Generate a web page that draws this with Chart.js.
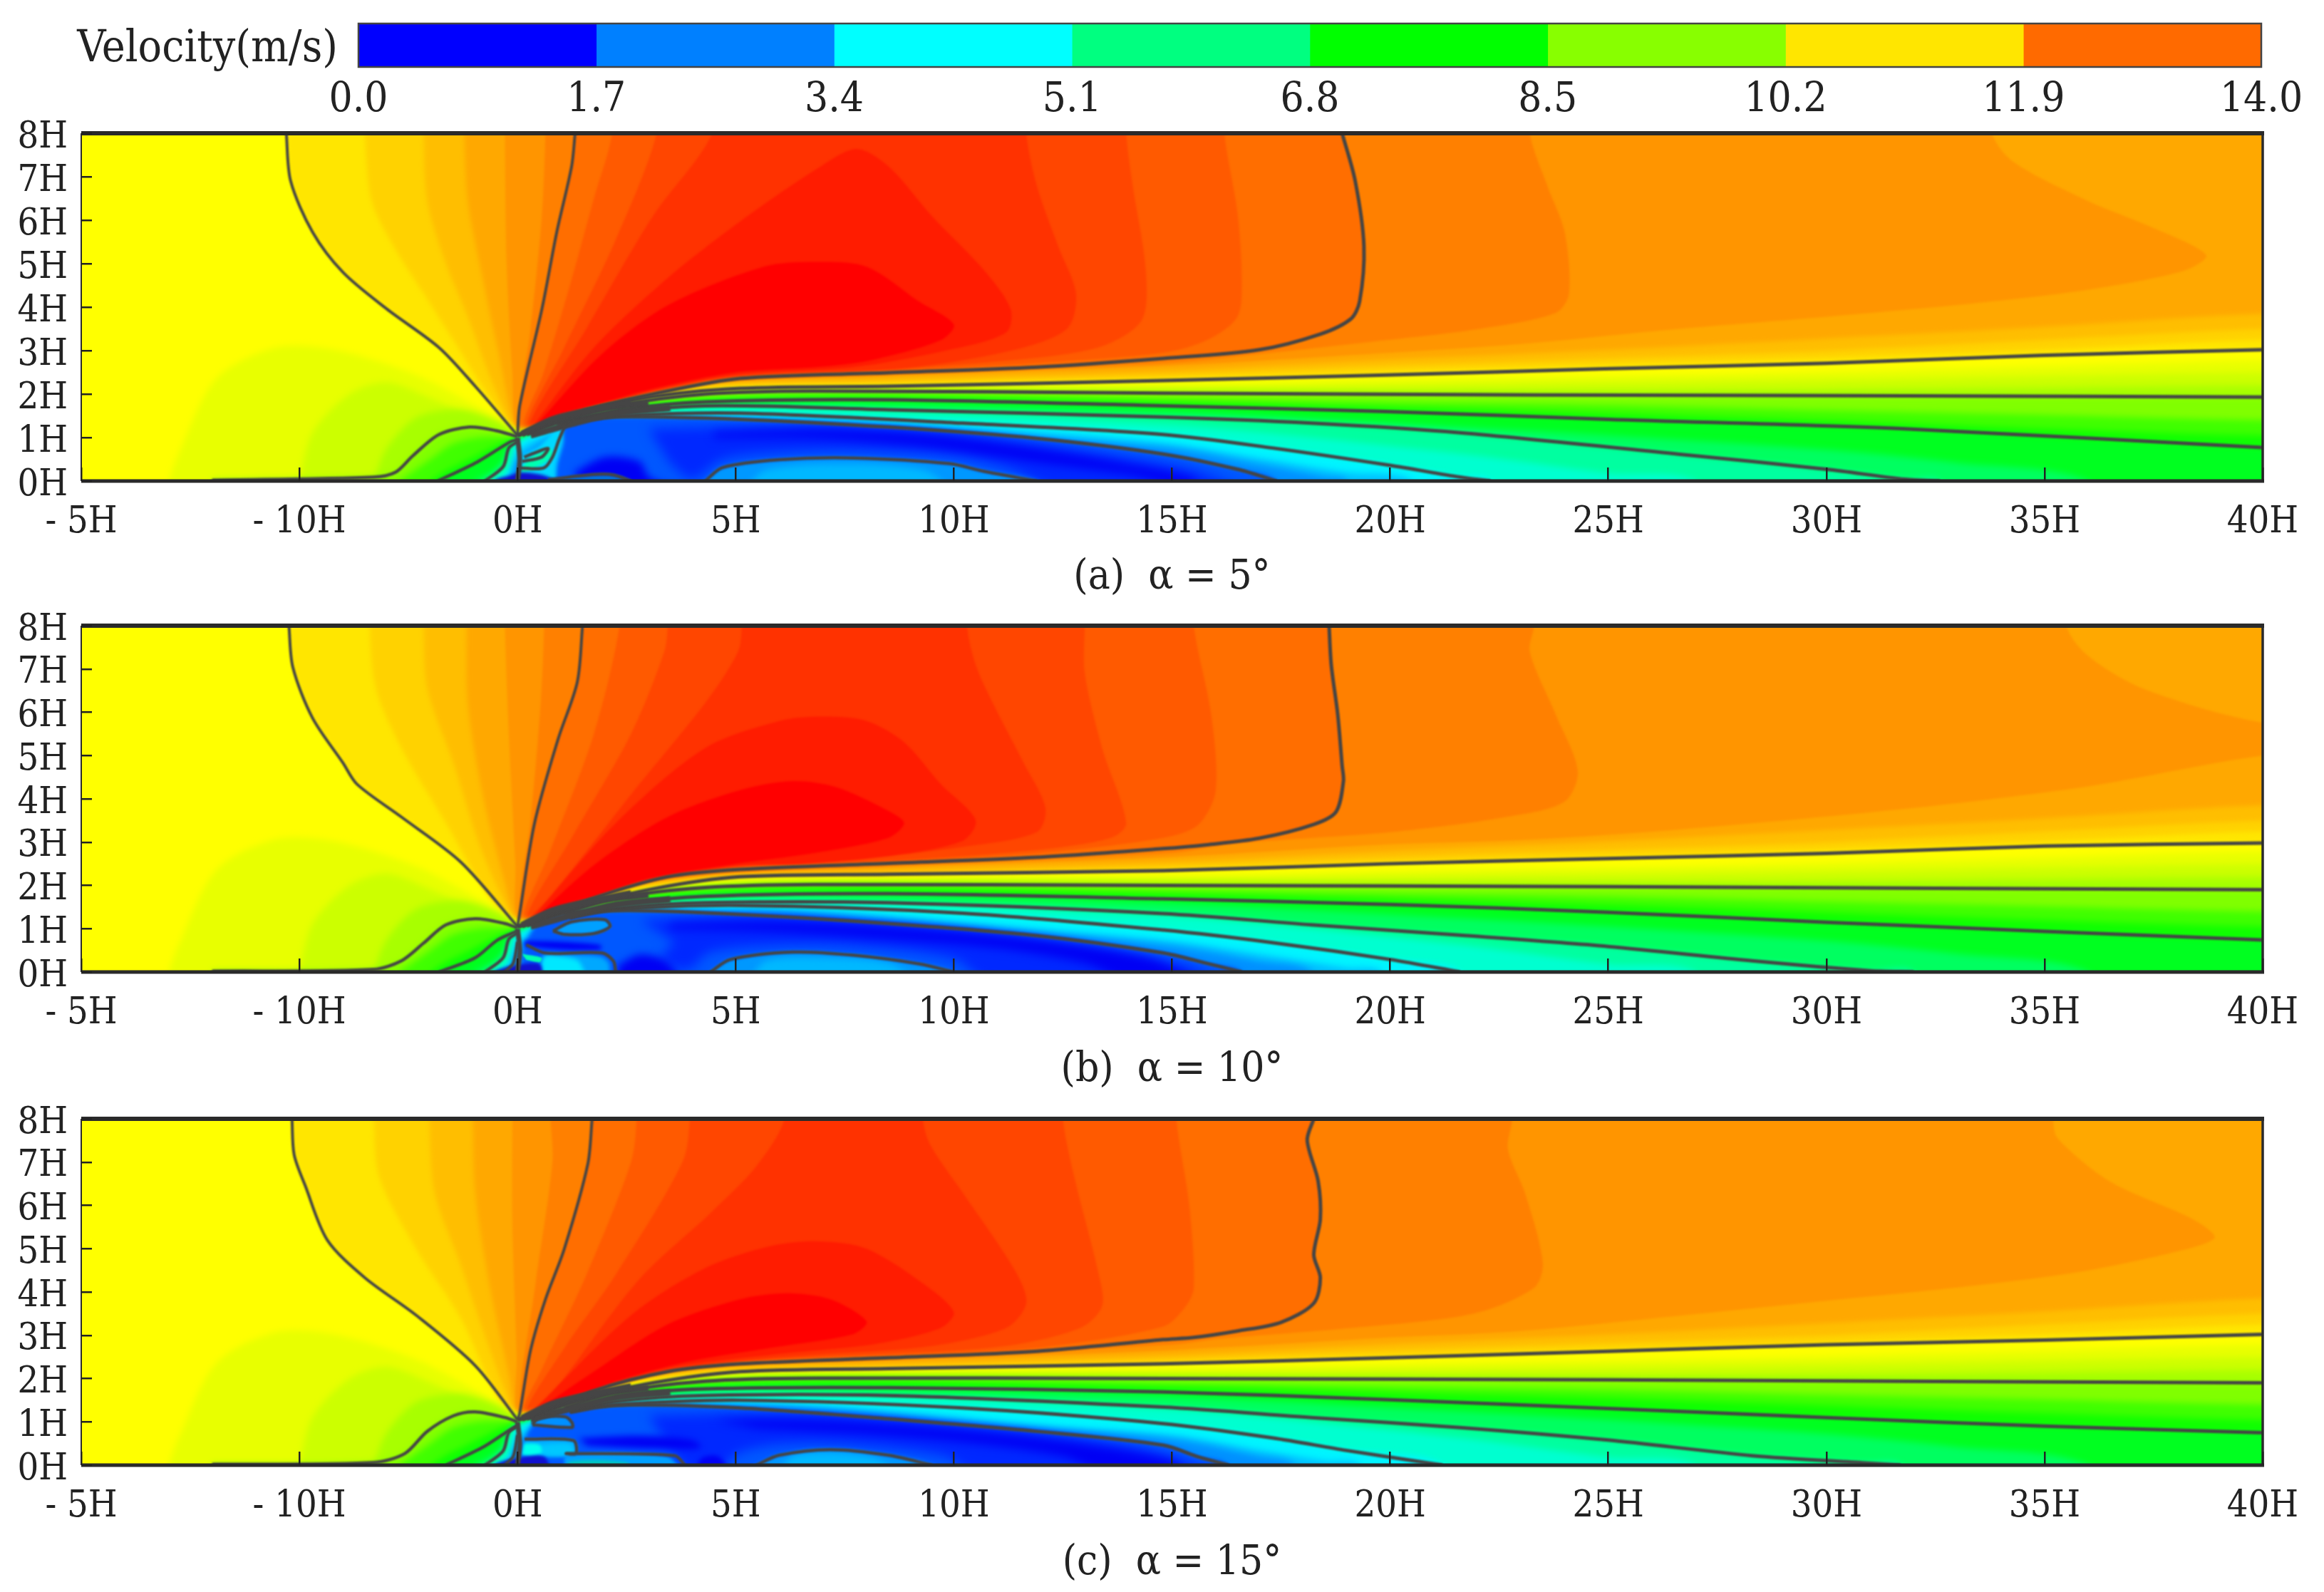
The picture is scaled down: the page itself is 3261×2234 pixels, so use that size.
<!DOCTYPE html>
<html><head><meta charset="utf-8">
<script src="https://cdn.jsdelivr.net/npm/chart.js@4"></script>
<style>html,body{margin:0;background:#fff}canvas{position:absolute;left:0}</style>
</head><body>
<canvas id="bar" width="3261" height="160" style="top:0"></canvas>
<canvas id="pa" width="3261" height="686" style="top:160px"></canvas>
<canvas id="pb" width="3261" height="686" style="top:851px"></canvas>
<canvas id="pc" width="3261" height="686" style="top:1543px"></canvas>
<script>
// ---------- labels ----------
const barLabel = 'Velocity(m/s)';
const barTicks = ['0.0','1.7','3.4','5.1','6.8','8.5','10.2','11.9','14.0'];
const barColors = ['#0000ff','#0080ff','#00ffff','#00ff80','#00ff00','#88ff00','#ffe600','#ff6a00'];
const barSpans = [1,1,1,1,1,1,1,1];
const xTickLabels = ['- 5H','- 10H','0H','5H','10H','15H','20H','25H','30H','35H','40H'];
const yTickLabels = ['0H','1H','2H','3H','4H','5H','6H','7H','8H'];
const captions = ['(a)  α = 5°','(b)  α = 10°','(c)  α = 15°'];
// ---------- band colours ----------
const upColors = ['#ffe600','#ffd200','#ffbe00','#ffa800','#ff9500','#ff8000','#ff6e00','#ff5a00','#ff4600','#ff3200','#ff1c00','#ff0000'];
const lowColors = ['#e8ff00','#ccff00','#a8ff00','#80ff00','#40ff00','#10ff00','#00ff20','#00ff60','#00ffa0','#00ffd0','#00f4ff','#00c0ff','#0090ff'];
// ---------- fields shared by the panels ----------
const bot2=[[.3,1.15],[1.5,1.62],[3,2],[5,2.2],[8.5,2.25],[15,2.38],[20,2.53],[25,2.68],[30,2.83],[35,3.02],[40,3.25]];
const bot3=[[.4,1.2],[1.5,1.68],[3,2.03],[5,2.24],[8.5,2.3],[15,2.46],[20,2.65],[25,2.82],[30,3],[35,3.25],[40,3.5]];
const bot4=[[.4,1.22],[1.5,1.7],[3,2.05],[5,2.27],[8.5,2.36],[15,2.56],[20,2.8],[25,3.02],[30,3.28],[35,3.55],[40,3.85]];
const bot5=[[.5,1.25],[1.5,1.75],[3,2.07],[5,2.3],[8.5,2.42],[15,2.66],[20,2.95]];
const hill1=[[-8,0],[-7.75,.67],[-6.9,2.36],[-5.54,3.07],[-4.19,3.02],[-2.32,2.44],[-.8,1.64],[0,1.2]];
const hill2=[[-5,0],[-4.7,1.11],[-3.85,2],[-3,2.27],[-2,1.91],[-.8,1.38],[0,1.12]];
const hill3=[[-3.3,0],[-3,.75],[-2.3,1.47],[-1.3,1.64],[-.45,1.38],[0,1.1]];
const hill5=[[-2.7,0],[-2,.5],[-1.5,.85],[-.9,1],[-.3,1.02],[0,1]];
const hill6=[[-2,0],[-1.6,.25],[-1.1,.5],[-.5,.8],[0,.98]];
const hill8=[[-1,0],[-.6,.2],[-.3,.5],[0,.9]];
const hill9=[[-.75,0],[-.33,.33],[-.2,.76],[0,.9]];
const hill10=[[-.6,0],[-.25,.3],[-.12,.7],[0,.88]];
const hill11=[[-.4,0],[-.15,.25],[-.05,.5],[0,.85]];
const wake1=[[.6,1.25],[1.5,1.55],[3,1.86],[5.1,2.06],[8.5,2.14],[15,2.22],[20,2.33],[25,2.42],[30,2.52],[35,2.65],[40,2.78]];
const wake2=[[.7,1.22],[1.5,1.5],[3,1.84],[5,2.04],[8,2.1],[15,2.13],[20,2.2],[30,2.33],[40,2.5]];
const wake3=[[.8,1.2],[1.5,1.45],[3,1.81],[5,2.02],[8,2.07],[15,2.06],[25,2.07],[30,2.1],[40,2.2]];
const wake5=[[1,1.25],[2.5,1.7],[5,1.95],[8,2],[15,1.9],[20,1.82],[25,1.75],[30,1.63],[35,1.52],[40,1.4]];
const wake6=[[1.2,1.25],[2.5,1.68],[5,1.88],[8,1.93],[15,1.8],[20,1.68],[25,1.55],[30,1.38],[35,1.2],[40,1.05]];
const wake8=[[1.4,1.3],[3,1.62],[5,1.77],[8,1.76],[15,1.58],[20,1.33],[25,1.05],[30,.72],[33,.42],[36,0]];
const wake10=[[1.4,1.28],[3,1.55],[5,1.66],[8,1.6],[15,1.28],[18,1.02],[22,.58],[25,.18],[27,0]];
const fan1=[[.2,1.1],[1,1.4],[2,1.67],[3,1.78]];
const fan2=[[.3,1.05],[1.2,1.3],[2.2,1.55],[3.5,1.68]];
const fan3=[[.1,1.08],[.8,1.42],[1.6,1.62],[2.6,1.82]];
// ---------- panel (a) ----------
const a_upL=[[-5.3,8],[-5.2,6.9],[-4.7,5.73],[-4,4.8],[-3,3.96],[-1.8,3.07],[-.97,2.18],[0,1.05]];
const a_up=[[1.32,8],[1.24,7.24],[.9,5.73],[.56,3.96],[.05,1.73],[0,1.05]];
const a_L1=[[0,1.05],[.4,1.2],[1.6,1.64],[3.1,2],[5.1,2.36],[8.5,2.49],[11.9,2.62],[14.8,2.82],[17,3.02],[18.4,3.38],[19.1,3.73],[19.3,4.13],[19.4,5.4],[19.2,6.9],[18.9,8]];
const a_L2=[[0,1.05],[1.1,1.47],[2.9,1.91],[5.1,2.13],[8.5,2.18],[14.8,2.31],[19.9,2.44],[24.9,2.58],[30,2.71],[34.9,2.89],[40,3.02]];
const a_L3=[[.9,1.38],[2.25,1.73],[4.3,2],[6.8,2.07],[14.8,2.02],[23.3,1.98],[31.8,1.96],[40,1.93]];
const a_L4=[[.9,1.3],[2.4,1.64],[4.3,1.82],[8.5,1.87],[14.8,1.73],[19.9,1.6],[25,1.42],[31.8,1.2],[40,.77]];
const a_L5=[[1,1.3],[1.75,1.51],[4.3,1.73],[8.5,1.64],[14.8,1.47],[18.2,1.33],[21.6,1.11],[26.6,.62],[30,.27],[31.8,.04],[32.6,0]];
const a_L6=[[1,1.28],[1.4,1.38],[2.6,1.51],[5.1,1.56],[10.2,1.33],[14.8,1.07],[17.3,.76],[20,.36],[21.6,.09],[22.3,0]];
const a_L7=[[1.1,1.38],[2.25,1.48],[5.1,1.42],[8.5,1.24],[11.9,.98],[14.8,.62],[16.5,.27],[17.4,0]];
const a_L8=[[4.3,0],[4.7,.31],[6,.49],[7.7,.53],[9.9,.4],[10.7,.22],[11.9,0]];
const a_L9=[[.7,.03],[1.75,.15],[2.2,.14],[2.6,0]];
const a_H1=[[-7,.02],[-3.3,.09],[-2.8,.2],[-2.4,.58],[-1.8,1.07],[-1.1,1.24],[-.5,1.16],[0,1.02]];
const a_H2=[[-1.83,0],[-.92,.44],[-.17,.9],[0,.95]];
const a_w1=[[.05,.3],[.6,.3],[.8,.55],[.95,.95],[1.1,1.3]];
const a_w2=[[.1,.45],[.55,.55],[.7,.75],[.4,.65],[.15,.55]];
const a_u2L=[[-3.5,8],[-3.34,6.44],[-2.83,5.38],[-2.15,4.31],[-1.47,3.24],[-.8,2.18],[0,1.12]];
const a_u3L=[[-2.15,8],[-2.07,6.44],[-1.64,5],[-1.14,3.78],[-.54,2.18],[0,1.15]];
const a_u4L=[[-1.22,8],[-1.14,6.44],[-.8,4.67],[-.46,3.07],[0,1.15]];
const a_u5L=[[-.29,8],[-.25,5],[-.12,2.5],[0,1.1]];
const a_u5R=[[23,3.15],[26.6,3.5],[30,3.78],[33.4,4.09],[36,4.4],[38.2,4.84],[38.7,5.2],[37.5,5.82],[36,6.44],[34.3,7.33],[33.8,8]];
const a_u6L=[[.64,8],[.55,6],[.3,3.5],[.05,1.3]];
const a_u6R=[[.5,1.28],[1.5,1.78],[3,2.08],[5,2.32],[8.5,2.45],[15,2.72],[17.3,2.95],[19.9,3.24],[22.1,3.51],[23.8,3.87],[24.1,4.31],[24,5.73],[23.6,6.8],[23.2,8]];
const a_u8L=[[2.17,8],[1.75,6.5],[1.2,4.5],[.6,2.5],[.15,1.25]];
const a_u8R=[[1,1.5],[3,2.02],[5,2.38],[9,2.55],[12,2.72],[14.8,2.95],[15.8,3.24],[16.5,3.78],[16.6,4.67],[16.5,6.18],[16.2,8]];
const a_u9L=[[3.19,8],[2.25,5.55],[1.07,3.07],[.2,1.2]];
const a_u9R=[[1.2,1.55],[3,2.03],[5,2.4],[7.7,2.53],[11.1,2.76],[13.3,3.07],[14.3,3.69],[14.4,4.84],[14.1,6.8],[13.95,8]];
const a_u10L=[[4.46,8],[3.1,6.09],[1.58,3.51],[.25,1.2]];
const a_u10R=[[1.3,1.58],[3,2.05],[5,2.42],[8.9,2.6],[11.4,3.02],[12.6,3.51],[12.8,4.31],[12.4,5.38],[11.9,6.8],[11.66,8]];
const a_u11=[[.3,1.2],[1.75,3.07],[3.44,4.67],[5.14,6],[6.83,7.16],[7.76,7.64],[8.5,7.24],[9.5,6.09],[10.7,4.84],[11.3,3.96],[11.2,3.42],[9.9,3.02],[7.7,2.62],[5,2.45],[3,2.07],[1.6,1.66]];
const a_u12=[[.35,1.2],[1.9,2.89],[3.44,4.04],[5.64,4.93],[6.83,5.04],[8,4.93],[9.2,4.13],[10,3.6],[9.7,3.24],[8.2,2.8],[7,2.63],[5,2.5],[3,2.1],[1.6,1.7]];
const a_w12=[[1.4,1.32],[5,1.49],[8,1.36],[12,1.12],[15,.85],[17,.53],[19,.2],[20.5,0]];
const a_w13=[[1.4,1.3],[2.5,1.4],[5,1.42],[8,1.26],[12,.98],[15,.75],[17,.38],[18.5,.1],[19,0]];
const a_blueEdge=[[.9,-1],[.9,.3],[1.05,.9]];
const a_mid=[[3,1.2],[7,1.27],[10,1.1],[13,.7],[15.5,.25],[16.5,-.2],[12.5,-.2],[11.2,.3],[9.9,.58],[7.7,.7],[6,.66],[4.7,.5],[4,.05],[3.5,.4]];
const a_core=[[4.5,1.12],[7,1.18],[9.5,1.05],[12,.72],[14,.38],[15.5,.05],[15.5,-.2],[14,.15],[12,.42],[9.5,.78],[7,.98],[4.5,1]];
const a_blob=[[1.3,.2],[2,.55],[2.8,.45],[3,.1],[3.6,-.2],[1.5,-.2]];
const a_bub=[[5.2,-.2],[5.7,.25],[7.5,.38],[9.3,.25],[10,-.2]];
const a_spring=[[.1,.15],[.8,.55],[.75,.75],[.3,.55],[.1,.3]];
const a_cyan=[[.05,-.2],[.05,.5],[.5,.8],[1,1.25],[1.1,.9],[.95,.3],[.9,-.2]];
const a_dark=[[-.6,-.2],[-.5,.03],[-.2,.12],[.1,.2],[.7,.1],[1.2,-.2]];
// ---------- panel (b) ----------
const b_upL=[[-5.24,8],[-5.15,7.04],[-4.7,5.87],[-4,4.83],[-3.68,4.34],[-2.66,3.58],[-1.3,2.54],[0,1.05]];
const b_up=[[1.49,8],[1.37,6.7],[.93,5.38],[.39,3.44],[.05,1.36],[0,1.05]];
const b_L1=[[0,1.05],[.4,1.16],[1.75,1.71],[3.44,2.2],[5.1,2.37],[8.5,2.51],[11.9,2.65],[14.8,2.85],[15.8,2.94],[17,3.09],[18.25,3.41],[18.76,3.7],[18.93,4.41],[18.9,4.76],[18.8,5.94],[18.65,7.1],[18.6,8]];
const b_L2=[[0,1.05],[1.4,1.5],[3.1,1.92],[5.1,2.2],[8.5,2.26],[14.8,2.34],[19.9,2.5],[25,2.62],[30,2.74],[35,2.91],[40,2.98]];
const b_L3=[[1.07,1.36],[2.25,1.71],[4.3,1.95],[6.8,2.02],[14.8,2],[25,1.97],[40,1.9]];
const b_L4=[[1.2,1.3],[2.4,1.57],[4.3,1.75],[8.5,1.81],[14.8,1.69],[20,1.56],[25,1.38],[30,1.15],[35,.94],[40,.74]];
const b_L5=[[1.2,1.26],[2.25,1.47],[4.3,1.6],[8.5,1.6],[14.8,1.35],[18.2,1.09],[21.6,.85],[25,.59],[28.3,.26],[31,.03],[32,0]];
const b_L6=[[1.2,1.26],[2.25,1.44],[5.1,1.54],[10.2,1.36],[14.8,.97],[17.3,.68],[20,.29],[21.6,0]];
const b_L7=[[.5,1.2],[1.07,1.36],[2.6,1.42],[5.1,1.33],[8.5,1.12],[11.9,.84],[14.8,.44],[15.8,.2],[16.6,0]];
const b_L8=[[4.42,0],[4.88,.29],[6.32,.46],[7.68,.39],[9.2,.19],[10,0]];
const b_ell=[[.81,.95],[1.24,1.16],[2,1.21],[2.12,1.05],[1.75,.89],[1.07,.87]];
const b_box=[[.2,.63],[.63,.44],[1.94,.44],[2.2,.25],[2.25,0]];
const b_H1=[[-7,.02],[-3.3,.06],[-2.66,.26],[-2.15,.67],[-1.64,1.09],[-.97,1.23],[-.29,1.12],[0,1.02]];
const b_H2=[[-1.8,0],[-.97,.33],[-.46,.74],[0,.95]];
const b_u2L=[[-3.39,8],[-3.25,6.56],[-2.66,5.17],[-1.64,3.44],[-.63,1.71],[0,1.12]];
const b_u3L=[[-2.15,8],[-2.07,6.56],[-1.47,4.83],[-.8,2.75],[0,1.15]];
const b_u4L=[[-1.17,8],[-1.14,6.2],[-.8,4.1],[-.29,2.06],[0,1.15]];
const b_u5L=[[-.29,8],[-.2,5.5],[-.05,2.5],[0,1.2]];
const b_u5R=[[23,3.05],[26.6,3.29],[31.7,3.76],[36,4.29],[40,5],[43,5.2],[43,5.6],[40,5.76],[37.3,6.53],[36,7.3],[35.5,8]];
const b_u6L=[[.61,8],[.53,6.2],[.3,3.5],[.05,1.3]];
const b_u6R=[[.5,1.3],[1.5,1.78],[3,2.1],[5,2.3],[8.5,2.45],[15,2.75],[16.5,2.97],[20,3.23],[22.7,3.59],[24,3.94],[24.3,4.65],[23.8,5.94],[23.2,7.4],[23.3,8]];
const b_u8L=[[2.34,8],[1.75,5.5],[.73,2.75],[.15,1.25]];
const b_u8R=[[1,1.5],[3,2.1],[5,2.4],[9,2.57],[12,2.75],[14.8,3.1],[15.6,3.4],[16,4.18],[15.9,5.94],[15.5,8]];
const b_u9L=[[3.44,8],[3.36,7.39],[2.6,5.5],[1.24,3.1],[.2,1.2]];
const b_u9R=[[1.2,1.55],[3,2.1],[5,2.42],[8.5,2.57],[11.9,2.82],[13.6,3.1],[13.95,3.44],[13.4,5.17],[13,6.9],[13,8]];
const b_u10L=[[5.14,8],[5.05,7.39],[4.29,6.2],[2.6,4.1],[.73,1.71],[.25,1.2]];
const b_u10R=[[1.3,1.6],[3,2.12],[5,2.44],[7.7,2.62],[10.2,2.89],[11.9,3.23],[12.1,3.79],[11.6,4.83],[10.9,6.2],[10.5,7.1],[10.3,8]];
const b_u11=[[.3,1.2],[2.25,3.44],[4.29,5.17],[6,5.8],[7,5.9],[8,5.8],[8.86,5.31],[9.7,4.34],[10.5,3.51],[10.2,3.03],[8.5,2.68],[6.5,2.5],[5,2.46],[3,2.14],[1.4,1.62]];
const b_u12=[[.35,1.2],[1.75,2.47],[3.44,3.58],[5.1,4.2],[6.3,4.41],[7.3,4.27],[8.5,3.72],[8.86,3.44],[8.5,3.1],[6.8,2.75],[5,2.5],[3,2.16],[1.5,1.65]];
const b_w12=[[1.4,1.35],[5,1.46],[8,1.3],[12,.98],[15,.72],[17,.42],[19,.1],[19.8,0]];
const b_w13=[[1.4,1.33],[5,1.4],[8,1.22],[12,.9],[15,.6],[17,.25],[18.2,0]];
const b_blueEdge=[[.15,-1],[.12,.4]];
const b_mid=[[2.8,1.2],[6,1.3],[10,1],[13,.6],[15.5,.1],[16,-.2],[10.8,-.2],[10,.3],[7.7,.6],[6,.62],[4.4,.45],[3.9,.05],[3.3,.3],[3.6,.7]];
const b_core=[[3.5,1.12],[6,1.15],[9,1],[12,.72],[14.5,.3],[15.5,-.2],[14,-.2],[13,.2],[11,.55],[8,.8],[5.5,.95],[3.5,1]];
const b_blob=[[2.3,.15],[2.8,.4],[3.4,.25],[3.7,-.2],[2.3,-.2]];
const b_band=[[.15,.72],[1,.7],[1.9,.62],[1.9,.52],[1,.52],[.15,.6]];
const b_cyanBox=[[.55,-.2],[.6,.35],[1,.4],[1.9,.36],[2.1,.2],[2.1,-.2]];
const b_cyanIn=[[.55,-.2],[.6,.35],[1,.36],[1.4,.25],[1.6,-.2]];
const b_spring=[[.1,.42],[.55,.33],[.5,.22],[.2,.28]];
const b_dark=[[-.7,-.2],[-.5,.03],[-.1,.15],[.5,.18],[.6,-.2]];
const b_bub=[[5.3,-.2],[5.7,.25],[7,.32],[8.5,.2],[9.2,-.2]];
// ---------- panel (c) ----------
const c_upL=[[-5.17,8],[-5.12,7.17],[-4.86,6.44],[-4.36,5.2],[-3.5,4.33],[-2.32,3.46],[-.97,2.3],[0,1.05]];
const c_up=[[1.71,8],[1.61,6.95],[1.07,4.99],[.64,3.83],[.3,2.66],[.05,1.2],[0,1.05]];
const c_L1=[[0,1.05],[.4,1.14],[1.75,1.72],[3.44,2.16],[5.1,2.34],[8.5,2.48],[11.9,2.63],[14.8,2.9],[15.5,2.95],[16.5,3.1],[17.5,3.3],[18.25,3.74],[18.4,4.33],[18.25,4.86],[18.4,5.68],[18.35,6.56],[18.1,7.5],[18.25,8]];
const c_L2=[[0,1.05],[1.4,1.5],[3.1,1.9],[5.1,2.16],[8.5,2.23],[14.8,2.34],[20,2.48],[25,2.63],[30,2.78],[35,2.89],[40,3.02]];
const c_L3=[[1.07,1.32],[2.25,1.68],[4.3,1.94],[6.8,2.01],[14.8,2],[25,1.97],[40,1.9]];
const c_L4=[[1.2,1.28],[2.4,1.61],[4.3,1.76],[8.5,1.79],[14.8,1.69],[20,1.51],[25,1.31],[30,1.1],[35,.9],[40,.75]];
const c_L5=[[1.2,1.24],[2.25,1.47],[4.3,1.61],[8.5,1.61],[14.8,1.34],[18.2,1.1],[21.6,.87],[25,.58],[28.3,.22],[30.9,.05],[31.7,0]];
const c_L6=[[1.2,1.22],[2.25,1.39],[5.1,1.5],[10.2,1.32],[14.8,.96],[17.3,.63],[19,.34],[21.2,0]];
const c_L7=[[.5,1.15],[1.07,1.28],[2.6,1.39],[5.1,1.32],[8.5,1.07],[11.9,.78],[14.8,.46],[15.6,.19],[16.3,0]];
const c_L8=[[5.47,0],[6,.23],[7.17,.36],[8.5,.23],[9.5,0]];
const c_box1=[[.34,.93],[.47,1.09],[1.09,1.12],[1.25,.98],[1.25,.87]];
const c_box2=[[.16,.6],[1.28,.57],[1.34,.27],[1.12,.27],[3.6,.22],[3.84,0]];
const c_H1=[[-7,.02],[-3.3,.06],[-2.58,.27],[-2.07,.78],[-1.47,1.14],[-.97,1.23],[-.29,1.1],[0,1]];
const c_H2=[[-1.64,0],[-.8,.41],[-.29,.74],[0,.92]];
const c_u2L=[[-3.29,8],[-3.17,6.66],[-2.32,4.99],[-1.3,3.39],[-.46,1.58],[0,1.12]];
const c_u3L=[[-2.02,8],[-1.9,6.3],[-1.3,4.62],[-.63,2.66],[0,1.15]];
const c_u4L=[[-1.02,8],[-.97,6.3],[-.63,4.1],[-.2,2.1],[0,1.15]];
const c_u5L=[[-.12,8],[-.12,5.6],[-.02,2.5],[0,1.2]];
const c_u5R=[[23,3.1],[26.6,3.45],[30,3.8],[33.4,4.15],[36,4.5],[38.4,5.03],[38.9,5.27],[38.4,5.68],[36.5,6.55],[35.3,7.55],[35.2,8]];
const c_u6L=[[.76,8],[.8,7],[.4,4.1],[.05,1.3]];
const c_u6R=[[.5,1.3],[1.5,1.78],[3,2.1],[5,2.32],[8.5,2.45],[15,2.78],[16.1,2.92],[19,3.16],[21.9,3.5],[23.3,4.1],[23.5,4.68],[23.1,6.26],[22.7,7.3],[22.8,8]];
const c_u8L=[[2.73,8],[2.6,7],[1.58,4.4],[.55,2.2],[.15,1.25]];
const c_u8R=[[1,1.5],[3,2.08],[5,2.38],[9,2.55],[12,2.72],[14.8,3.2],[15.3,3.65],[15.5,4.1],[15.4,5.97],[15.1,8]];
const c_u9L=[[3.95,8],[3.78,7],[2.25,4.4],[1.07,2.7],[.2,1.2]];
const c_u9R=[[1.2,1.55],[3,2.08],[5,2.39],[8,2.55],[11.1,2.74],[12.9,3.17],[13.4,3.68],[13.3,4.5],[12.76,6.66],[12.5,8]];
const c_u10L=[[6.12,8],[5.47,6.9],[4.46,5.86],[2.76,4.26],[.73,1.58],[.25,1.2]];
const c_u10R=[[1.3,1.6],[3,2.1],[5,2.4],[6.8,2.55],[9.4,2.74],[11.2,3.17],[11.66,3.75],[11.4,4.5],[10.2,6.3],[9.46,7.4],[9.29,8]];
const c_u11=[[.3,1.2],[2.6,3.46],[4.3,4.55],[5.8,5.06],[6.9,5.17],[8,5],[9.4,4.12],[10,3.53],[9.7,3.17],[8.2,2.8],[6,2.57],[3.4,2.23],[1.6,1.7]];
const c_u12=[[.35,1.2],[1.75,2.16],[3.44,3.25],[5.1,3.83],[6.15,3.97],[7.17,3.83],[8,3.32],[7.7,3.03],[6,2.74],[3.95,2.4],[2.25,1.94],[1.2,1.5]];
const c_w12=[[1.4,1.3],[5,1.44],[8,1.25],[12,.9],[15,.7],[17,.35],[18.5,.1],[19.3,0]];
const c_w13=[[1.4,1.28],[5,1.38],[8,1.17],[12,.85],[15,.6],[17,.2],[17.8,0]];
const c_blueEdge=[[.15,-1],[.12,.4]];
const c_mid=[[3,1.15],[7,1.2],[11,.85],[14,.45],[15.5,.05],[16,-.2],[10.5,-.2],[9.8,.2],[7.5,.48],[6,.48],[5,.25],[4.6,-.2],[4,-.2],[3.5,.4]];
const c_core=[[4.5,1.05],[7,1.02],[10,.82],[12.5,.55],[15,.1],[15.3,-.2],[13.5,-.2],[12.5,.2],[10.5,.5],[8,.72],[5.5,.85]];
const c_dark2=[[1.4,.62],[2.8,.68],[4,.58],[4.2,.4],[3,.38],[1.6,.45]];
const c_spot=[[4.1,-.2],[4.2,.15],[4.6,.2],[4.9,-.2]];
const c_boxIn=[[.2,.45],[1.2,.5],[1.3,.28],[1.05,.2],[.5,.22]];
const c_cy=[[.15,.5],[.5,.47],[.55,.3],[.3,.2],[.1,.25]];
const c_strip=[[1.1,-.2],[1.12,.22],[3.4,.2],[3.84,-.2]];
const c_stripIn=[[1.1,-.2],[1.2,.08],[2.5,.06],[2.7,-.2]];
const c_dark=[[-.7,-.2],[-.5,.03],[-.1,.15],[.6,.2],[.8,-.2]];
const c_bub=[[6,-.2],[6.3,.2],[7.2,.28],[8.2,.15],[8.8,-.2]];

// ---------- helpers that turn read values into chart datasets ----------
const P = a => a.map(([x, y]) => ({x, y}));
const fillDs = (pts, color, blur) => ({data: P(pts), backgroundColor: color, borderWidth: 0, fill: 'shape', pointRadius: 0, tension: .3, _blur: blur});
const lineDs = (pts, w) => ({data: P(pts), borderColor: '#454545', borderWidth: w, fill: false, pointRadius: 0, tension: .3, borderJoinStyle:'round', _blur: 'blur(.8px)'});
const openUp = (left, right) => {
  const last = right[right.length - 1], out = [[left[0][0], 9.3], ...left, ...right];
  if (last[1] >= 8) out.push([last[0], 9.3]); else out.push([44, last[1]], [44, 9.3]);
  return out;
};
const openDown = (hill, wake) => {
  const last = wake[wake.length - 1], out = [...hill, ...wake];
  if (last[1] > 0) out.push([44, last[1]], [44, -1.2]); else out.push([last[0] + .3, -1.2]);
  out.push([hill[0][0], -1.2]);
  return out;
};
function panelSets(p) {
  const soft = 'blur(1.5px)', wide = 'blur(5px)', s = [];
  s.push(fillDs([[-11,-1],[41,-1],[41,9.3],[-11,9.3]], '#ffff00', 'none'));
  s[0].tension = 0;
  s.push(fillDs(openUp(p.upL, p.L2), upColors[0], 'blur(3px)'));
  s.push(fillDs(openUp(p.u2L, bot2), upColors[1], 'blur(3px)'));
  s.push(fillDs(openUp(p.u3L, bot3), upColors[2], 'blur(3px)'));
  s.push(fillDs(openUp(p.u4L, bot4), upColors[3], 'blur(3px)'));
  s.push(fillDs(openUp(p.u5L, [...bot5, ...p.u5R]), upColors[4], soft));
  s.push(fillDs(openUp(p.u6L, p.u6R), upColors[5], soft));
  s.push(fillDs(openUp(p.up, p.L1), upColors[6], soft));
  s.push(fillDs(openUp(p.u8L, p.u8R), upColors[7], soft));
  s.push(fillDs(openUp(p.u9L, p.u9R), upColors[8], soft));
  s.push(fillDs(openUp(p.u10L, p.u10R), upColors[9], soft));
  s.push(fillDs(p.u11, upColors[10], soft));
  s.push(fillDs(p.u12, upColors[11], soft));
  const low = [[hill1,wake1],[hill2,wake2],[hill3,wake3],[p.H1,p.L3],[hill5,wake5],[hill6,wake6],[p.H2,p.L4],[hill8,wake8],[hill9,p.L5],[hill10,wake10],[hill11,p.L6],[[[-.3,0],[-.1,.2],[0,.7]],p.w12],[[[-.2,0],[0,.5]],p.w13]];
  low.forEach(([h,w],i) => s.push(fillDs(openDown(h,w), lowColors[i], wide)));
  s.push(...p.insideBefore.map(([a,c,b]) => fillDs(a,c,b)));
  s.push(fillDs([...p.blueEdge, ...p.L7, [p.L7[p.L7.length-1][0]+.4,-1.2]], '#0058ff', 'blur(3px)'));
  s.push(...p.inside.map(([a,c,b]) => fillDs(a,c,b)));
  [p.L1,p.L2,p.L3,p.L4,p.L5,p.L6,p.L7].forEach(l => s.push(lineDs(l,5)));
  [fan1,fan2,fan3].forEach(l => s.push(lineDs(l,9)));
  s.push(lineDs(p.upL,4), lineDs(p.up,4), lineDs(p.H1,4.5), lineDs(p.H2,4.5), lineDs(hill9,4.5));
  p.extra.forEach(l => s.push(lineDs(l,4.5)));
  s.push(lineDs([[0,0],[.05,.5],[0,1]],7));
  s.forEach((d,i) => { d.order = s.length - i; });
  return s;
}
const panels = [
 {upL:a_upL,up:a_up,L1:a_L1,L2:a_L2,L3:a_L3,L4:a_L4,L5:a_L5,L6:a_L6,L7:a_L7,H1:a_H1,H2:a_H2,u2L:a_u2L,u3L:a_u3L,u4L:a_u4L,u5L:a_u5L,u5R:a_u5R,u6L:a_u6L,u6R:a_u6R,u8L:a_u8L,u8R:a_u8R,u9L:a_u9L,u9R:a_u9R,u10L:a_u10L,u10R:a_u10R,u11:a_u11,u12:a_u12,w12:a_w12,w13:a_w13,blueEdge:a_blueEdge,
  insideBefore:[[a_cyan,'#00d8ff','blur(2px)'],[a_spring,'#00ffb0','blur(2px)'],[a_dark,'#1010d0','blur(2px)']],
  inside:[[a_mid,'#0028ff','blur(8px)'],[a_core,'#0000f4','blur(7px)'],[a_blob,'#0000f4','blur(6px)'],[[...a_L8,[12,-.2],[4.2,-.2]],'#0098ff','blur(3px)'],[a_bub,'#00b8ff','blur(5px)'],[[...a_L9,[2.7,-.2],[.7,-.2]],'#0070e0','blur(2px)']],
  extra:[a_L8,a_L9,a_w1,a_w2]},
 {upL:b_upL,up:b_up,L1:b_L1,L2:b_L2,L3:b_L3,L4:b_L4,L5:b_L5,L6:b_L6,L7:b_L7,H1:b_H1,H2:b_H2,u2L:b_u2L,u3L:b_u3L,u4L:b_u4L,u5L:b_u5L,u5R:b_u5R,u6L:b_u6L,u6R:b_u6R,u8L:b_u8L,u8R:b_u8R,u9L:b_u9L,u9R:b_u9R,u10L:b_u10L,u10R:b_u10R,u11:b_u11,u12:b_u12,w12:b_w12,w13:b_w13,blueEdge:b_blueEdge,
  insideBefore:[],
  inside:[[b_mid,'#0028ff','blur(8px)'],[b_core,'#0000f4','blur(7px)'],[b_blob,'#0000f4','blur(6px)'],[b_band,'#0000f4','blur(3px)'],[b_ell,'#00a0ff','blur(2px)'],[b_cyanBox,'#00a8ff','blur(3px)'],[b_cyanIn,'#00e8ff','blur(3px)'],[b_spring,'#00ffb0','blur(1px)'],[b_dark,'#1010d0','blur(2px)'],[[...b_L8,[10.2,-.2],[4.3,-.2]],'#0098ff','blur(3px)'],[b_bub,'#00b8ff','blur(5px)']],
  extra:[b_L8,b_box,[...b_ell,b_ell[0]],[[-.3,0],[-.1,.2],[0,.7]]]},
 {upL:c_upL,up:c_up,L1:c_L1,L2:c_L2,L3:c_L3,L4:c_L4,L5:c_L5,L6:c_L6,L7:c_L7,H1:c_H1,H2:c_H2,u2L:c_u2L,u3L:c_u3L,u4L:c_u4L,u5L:c_u5L,u5R:c_u5R,u6L:c_u6L,u6R:c_u6R,u8L:c_u8L,u8R:c_u8R,u9L:c_u9L,u9R:c_u9R,u10L:c_u10L,u10R:c_u10R,u11:c_u11,u12:c_u12,w12:c_w12,w13:c_w13,blueEdge:c_blueEdge,
  insideBefore:[],
  inside:[[c_mid,'#0028ff','blur(8px)'],[c_core,'#0000f4','blur(7px)'],[c_dark2,'#0000f4','blur(5px)'],[c_spot,'#0000f4','blur(3px)'],[c_box1,'#0090ff','blur(2px)'],[[...c_box2.slice(0,3),[.1,.2]],'#00a8ff','blur(2px)'],[c_boxIn,'#00c8ff','blur(3px)'],[c_cy,'#00ffee','blur(2px)'],[c_strip,'#00a0ff','blur(2px)'],[c_stripIn,'#00c8c0','blur(2px)'],[c_dark,'#1010d0','blur(2px)'],[[...c_L8,[9.7,-.2],[5.3,-.2]],'#0098ff','blur(3px)'],[c_bub,'#00b8ff','blur(5px)']],
  extra:[c_L8,[...c_box1,c_box1[0]],c_box2,[[-.3,0],[-.1,.2],[0,.7]]]}
];

// ---------- chart set-up ----------
const FONT = '"DejaVu Serif Condensed","Liberation Serif",serif';
const softEdges = {
  id: 'softEdges',
  beforeDatasetsDraw(c) { c.ctx.filter = c.data.datasets[0]._blur || 'none'; },
  afterDatasetDraw(c, args) { const n = c.data.datasets[args.index + 1]; c.ctx.filter = (n && n._blur) || 'none'; },
  afterDatasetsDraw(c) { c.ctx.filter = 'none'; }
};
const frame = {
  id: 'frame',
  afterDatasetsDraw(c) {
    const {left, right, top, bottom} = c.chartArea, g = c.ctx;
    g.save(); g.strokeStyle = '#2a2a2a';
    g.lineWidth = 2; g.beginPath(); g.moveTo(left, top); g.lineTo(left, bottom); g.stroke();
    g.lineWidth = 3.5; g.beginPath(); g.moveTo(right, top); g.lineTo(right, bottom); g.stroke();
    g.lineWidth = 6; g.beginPath(); g.moveTo(left, top); g.lineTo(right + 2, top); g.stroke();
    g.lineWidth = 5; g.beginPath(); g.moveTo(left, bottom); g.lineTo(right + 2, bottom); g.stroke();
    g.restore();
  }
};
const noPad = s => { s.paddingTop = 0; s.paddingBottom = 0; s.paddingLeft = 0; s.paddingRight = 0; };
const axisHeights = [171, 173, 173];
panels.forEach((p, i) => {
  new Chart(document.getElementById(['pa','pb','pc'][i]), {
    type: 'line',
    data: {datasets: panelSets(p)},
    plugins: [softEdges, frame],
    options: {
      responsive: false, animation: false, events: [], devicePixelRatio: 1,
      layout: {padding: {top: 27, right: 86, left: 0, bottom: 0}},
      plugins: {legend: {display: false}, tooltip: {enabled: false}},
      elements: {line: {capBezierPoints: false}},
      scales: {
        x: {type: 'linear', min: -10, max: 40,
          afterFit: s => { s.height = axisHeights[i]; noPad(s); },
          border: {display: false},
          grid: {z: 1, drawOnChartArea: false, tickLength: -19, color: '#222', lineWidth: 2.5},
          ticks: {stepSize: 5, autoSkip: false, maxRotation: 0, padding: 46, color: '#222', font: {family: FONT, size: 52},
            callback: (v, idx) => xTickLabels[idx]},
          title: {display: true, text: captions[i], color: '#222', font: {family: FONT, size: 58}, padding: 0}},
        y: {type: 'linear', min: 0, max: 8,
          afterFit: s => { s.width = 114; noPad(s); },
          border: {display: false},
          grid: {z: 1, drawOnChartArea: false, tickLength: -15, color: '#222', lineWidth: 2.5},
          ticks: {stepSize: 1, autoSkip: false, padding: 34, labelOffset: 6, color: '#222', font: {family: FONT, size: 52},
            callback: (v, idx) => yTickLabels[idx]}}
      }
    }
  });
});
new Chart(document.getElementById('bar'), {
  type: 'bar',
  data: {labels: [barLabel], datasets: barColors.map((c, i) => ({data: [barSpans[i]], backgroundColor: c, borderWidth: 0, barPercentage: 1, categoryPercentage: 1}))},
  plugins: [{id: 'box', afterDatasetsDraw(c) { const {left, right, top, bottom} = c.chartArea, g = c.ctx; g.save(); g.strokeStyle = '#444'; g.lineWidth = 2.5; g.strokeRect(left, top, right - left, bottom - top); g.restore(); }}],
  options: {
    indexAxis: 'y', responsive: false, animation: false, events: [], devicePixelRatio: 1,
    layout: {padding: {top: 33, right: 88, left: 0, bottom: 0}},
    plugins: {legend: {display: false}, tooltip: {enabled: false}},
    scales: {
      x: {type: 'linear', stacked: true, min: 0, max: 8,
        afterFit: s => { s.height = 66; noPad(s); },
        border: {display: false}, grid: {display: false},
        ticks: {stepSize: 1, autoSkip: false, maxRotation: 0, padding: 4, color: '#222', font: {family: FONT, size: 58},
          callback: (v, idx) => barTicks[idx]}},
      y: {stacked: true, afterFit: s => { s.width = 503; noPad(s); },
        border: {display: false}, grid: {display: false},
        ticks: {padding: 21, labelOffset: 6, color: '#222', font: {family: FONT, size: 62}}}
    }
  }
});
</script>
</body></html>
